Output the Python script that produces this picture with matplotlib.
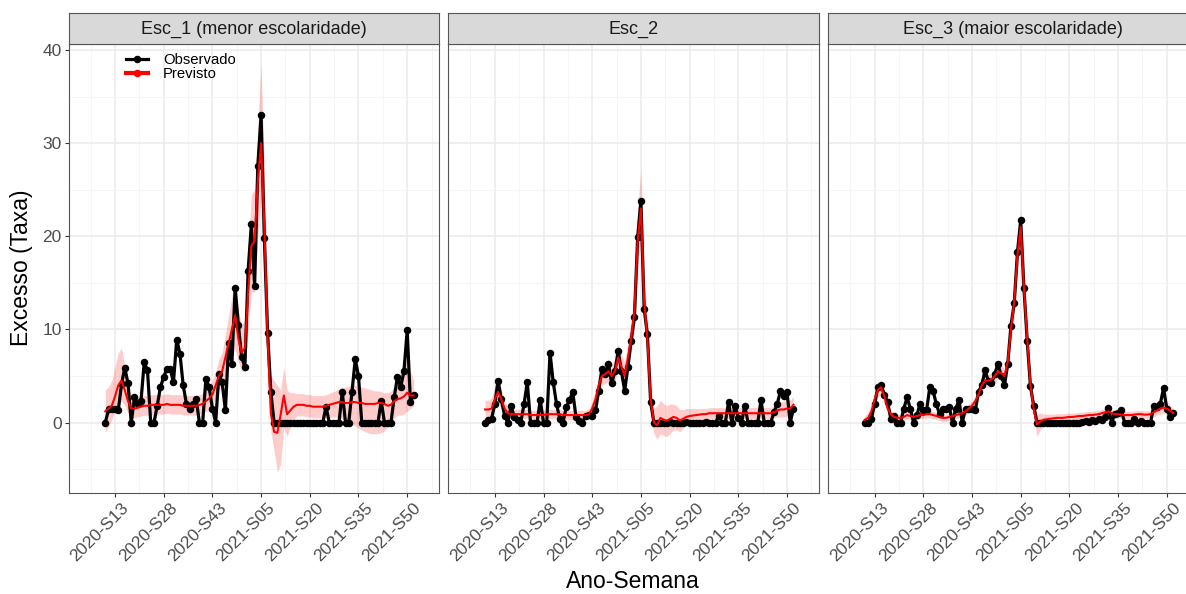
import matplotlib
matplotlib.use("Agg")
import matplotlib.pyplot as plt
from matplotlib.lines import Line2D
from matplotlib.transforms import ScaledTranslation
import numpy as np

plt.rcParams['font.family'] = ['Liberation Sans', 'DejaVu Sans']

# ---------------- data ----------------
weeks = [f"2020-S{k:02d}" for k in range(10, 54)] + [f"2021-S{k:02d}" for k in range(1, 53)]
tick_labels = ["2020-S13", "2020-S28", "2020-S43", "2021-S05", "2021-S20", "2021-S35", "2021-S50"]
panel_titles = ["Esc_1 (menor escolaridade)", "Esc_2", "Esc_3 (maior escolaridade)"]
series_names = ["Observado", "Previsto"]
y_ticks = [0, 10, 20, 30, 40]

obs1 = [0, 1.4, 1.5, 1.4, 1.3, 4.1, 5.9, 4.2, 0, 2.7,
        2.0, 2.3, 6.5, 5.6, 0, 0, 1.8, 3.8, 4.9, 5.8,
        5.8, 4.3, 8.9, 7.4, 4.0, 2.0, 1.5, 2.0, 2.5, 0,
        0, 4.7, 3.8, 1.5, 0, 5.2, 4.3, 1.3, 8.5, 6.3,
        14.5, 10.5, 7.0, 6.0, 16.3, 21.3, 14.7, 27.6, 33.0, 19.8,
        9.6, 3.3, 0, 0, 0, 0, 0, 0, 0, 0,
        0, 0, 0, 0, 0, 0, 0, 0, 1.7, 0,
        0, 0, 0, 3.3, 0, 0, 3.3, 6.8, 5.0, 0,
        0, 0, 0, 0, 0, 2.3, 0, 0, 0, 2.7,
        4.9, 3.8, 5.5, 9.9, 2.2, 3.0]
prev1 = [1.2, 1.5, 1.8, 2.8, 4.0, 4.5, 3.5, 2.3, 1.5, 1.5,
         1.6, 1.7, 1.8, 1.8, 1.9, 1.9, 1.9, 1.9, 1.9, 2.0,
         1.9, 1.9, 1.9, 1.9, 1.8, 1.8, 1.8, 1.8, 1.8, 1.9,
         2.0, 2.3, 2.6, 3.0, 4.0, 5.0, 5.5, 7.0, 8.5, 10.0,
         11.5, 9.0, 7.5, 8.0, 14.0, 19.0, 19.5, 26.0, 30.0, 21.0,
         9.0, 1.0, -1.0, -1.1, 0.8, 2.9, 0.9, 1.3, 1.7, 1.9,
         1.9, 1.9, 1.8, 1.8, 1.7, 1.7, 1.7, 1.7, 1.8, 1.9,
         2.0, 2.1, 2.2, 2.2, 2.1, 2.1, 2.2, 2.2, 2.1, 2.1,
         2.0, 2.0, 2.0, 2.0, 2.1, 2.1, 2.0, 1.8, 1.9, 2.3,
         2.5, 2.6, 2.8, 3.2, 2.9, 2.9]
lo1 = [-1.0, -0.5, 0.3, 1.2, 2.0, 2.3, 1.8, 1.0, 0.5, 0.5,
       0.6, 0.7, 0.8, 0.8, 0.9, 0.9, 0.9, 0.9, 0.9, 1.0,
       0.9, 0.9, 0.9, 0.9, 0.8, 0.8, 0.8, 0.8, 0.8, 0.9,
       1.0, 1.2, 1.4, 1.8, 2.6, 3.5, 3.8, 5.0, 6.0, 7.0,
       8.0, 6.5, 5.5, 5.5, 10.0, 14.0, 14.0, 20.0, 24.0, 15.0,
       5.0, -1.0, -3.0, -5.3, -4.5, -0.5, -1.5, -0.5, 0.3, 0.7,
       0.7, 0.7, 0.6, 0.6, 0.5, 0.5, 0.5, 0.5, 0.5, 0.5,
       0.6, 0.6, 0.5, 0.4, 0.2, 0.0, -0.2, -0.4, -0.6, -0.8,
       -1.0, -1.1, -1.2, -1.2, -1.2, -1.1, -0.9, -0.5, 0.0, 0.5,
       0.8, 0.8, 0.9, 1.2, 1.5, 1.8]
hi1 = [3.5, 3.8, 4.5, 6.0, 7.5, 8.0, 6.0, 4.0, 3.0, 2.7,
       2.7, 2.8, 2.9, 2.9, 3.0, 3.0, 3.0, 3.0, 3.0, 3.1,
       3.0, 3.0, 3.0, 3.0, 2.9, 2.9, 2.9, 2.9, 2.9, 3.0,
       3.1, 3.5, 4.0, 4.5, 5.5, 6.8, 7.5, 9.5, 11.5, 13.5,
       15.0, 12.0, 10.5, 11.0, 18.5, 24.5, 25.0, 32.0, 38.4, 27.0,
       13.0, 5.0, 4.5, 4.0, 3.5, 6.0, 3.5, 3.2, 3.2, 3.1,
       3.1, 3.1, 3.0, 3.0, 2.9, 2.9, 2.9, 2.9, 3.0, 3.1,
       3.3, 3.4, 3.6, 3.8, 3.8, 3.9, 4.0, 4.0, 3.9, 3.8,
       3.7, 3.6, 3.5, 3.4, 3.4, 3.3, 3.2, 3.2, 3.4, 3.8,
       4.8, 5.5, 6.5, 6.5, 5.5, 4.5]

obs2 = [0, 0.3, 0.4, 2.0, 4.5, 2.5, 0.75, 0, 1.8, 0.6,
        0.3, 0, 2.0, 4.3, 0, 0, 0, 2.4, 0, 0,
        7.5, 4.3, 2.0, 0.4, 0, 1.65, 2.4, 3.3, 0.6, 0.2,
        0, 0.75, 0.8, 0.75, 1.3, 3.4, 5.8, 5.2, 6.3, 4.2,
        5.5, 7.7, 5.5, 3.4, 6.0, 8.8, 11.3, 19.9, 23.8, 12.2,
        9.5, 2.2, 0, 0, 0, 0, 0, 0.1, 0, 0,
        0, 0, 0.1, 0, 0, 0, 0, 0, 0.1, 0,
        0, 0, 0.75, 0, 0, 2.2, 0, 1.8, 0.5, 0,
        1.8, 0, 0, 0, 0, 2.4, 0, 0, 0, 1.1,
        2.0, 3.4, 2.9, 3.3, 0, 1.5]
prev2 = [1.4, 1.4, 1.5, 2.5, 3.3, 2.5, 1.5, 1.0, 0.9, 0.9,
         0.9, 0.9, 0.9, 0.9, 0.8, 0.8, 0.8, 0.8, 0.8, 0.9,
         0.9, 0.9, 0.9, 0.9, 0.8, 0.8, 0.8, 0.8, 0.8, 0.8,
         0.8, 0.8, 0.9, 1.5, 2.5, 4.0, 5.0, 5.2, 5.5, 5.0,
         5.5, 7.0, 6.0, 5.0, 7.0, 9.0, 12.0, 19.5, 23.0, 13.0,
         9.0, 2.5, 0.0, -0.3, 0.5, 0.3, 0.2, 0.4, 0.6, 0.5,
         0.2, 0.4, 0.6, 0.7, 0.75, 0.8, 0.85, 0.9, 0.9, 1.0,
         1.0, 1.0, 1.0, 1.0, 1.0, 1.0, 1.0, 1.0, 1.0, 1.0,
         1.0, 1.0, 1.0, 1.0, 1.0, 1.0, 1.0, 1.0, 1.0, 1.1,
         1.3, 1.4, 1.4, 1.5, 1.5, 1.9]
lo2 = [0.6, 0.6, 0.7, 1.5, 2.2, 1.5, 0.8, 0.4, 0.4, 0.4,
       0.4, 0.4, 0.4, 0.4, 0.3, 0.3, 0.3, 0.3, 0.3, 0.4,
       0.4, 0.4, 0.4, 0.4, 0.3, 0.3, 0.3, 0.3, 0.3, 0.3,
       0.3, 0.3, 0.4, 0.8, 1.6, 3.0, 4.0, 4.2, 4.4, 4.0,
       4.4, 5.8, 4.8, 3.8, 5.5, 7.5, 10.0, 16.5, 19.5, 10.5,
       7.0, 1.0, -1.2, -1.8, -1.2, -1.4, -1.5, -1.2, -0.8, -0.8,
       -1.0, -0.6, -0.3, -0.1, 0.1, 0.2, 0.25, 0.3, 0.3, 0.4,
       0.4, 0.4, 0.4, 0.4, 0.4, 0.4, 0.4, 0.4, 0.4, 0.4,
       0.4, 0.4, 0.4, 0.4, 0.4, 0.4, 0.4, 0.4, 0.4, 0.5,
       0.6, 0.6, 0.6, 0.7, 0.8, 1.0]
hi2 = [2.4, 2.4, 2.6, 3.8, 4.6, 3.6, 2.3, 1.6, 1.4, 1.4,
       1.4, 1.4, 1.4, 1.4, 1.3, 1.3, 1.3, 1.3, 1.3, 1.4,
       1.4, 1.4, 1.4, 1.4, 1.3, 1.3, 1.3, 1.3, 1.3, 1.3,
       1.3, 1.3, 1.5, 2.2, 3.4, 5.0, 6.2, 6.4, 6.8, 6.2,
       6.8, 8.4, 7.4, 6.4, 8.8, 11.0, 14.5, 23.0, 27.2, 15.5,
       11.0, 4.0, 1.5, 1.8, 2.4, 2.0, 1.8, 2.0, 2.0, 1.8,
       1.4, 1.4, 1.5, 1.5, 1.5, 1.5, 1.5, 1.5, 1.5, 1.6,
       1.6, 1.6, 1.6, 1.6, 1.6, 1.6, 1.6, 1.6, 1.6, 1.6,
       1.6, 1.6, 1.6, 1.6, 1.6, 1.6, 1.6, 1.6, 1.6, 1.8,
       2.0, 2.2, 2.3, 2.4, 2.4, 2.8]

obs3 = [0, 0, 0.4, 2.0, 3.8, 4.0, 3.0, 2.2, 0.4, 0.75,
        0, 0, 1.5, 2.7, 1.5, 0, 0.8, 2.0, 1.3, 1.3,
        3.8, 3.4, 2.0, 0.9, 1.5, 1.5, 1.65, 0, 1.5, 2.4,
        0, 1.5, 1.5, 1.5, 1.3, 3.3, 4.0, 5.6, 4.5, 4.2,
        5.2, 6.3, 5.0, 4.0, 6.3, 10.4, 12.8, 18.3, 21.7, 14.4,
        8.8, 3.9, 1.8, 0, 0, 0, 0, 0, 0, 0,
        0, 0, 0, 0, 0, 0, 0, 0.1, 0.2, 0.1,
        0.3, 0.2, 0.4, 0.3, 0.6, 1.6, 0, 0.9, 1.0, 1.35,
        0, 0, 0, 0.4, 0, 0.2, 0, 0, 0, 1.8,
        1.7, 2.0, 3.7, 1.5, 0.6, 1.0]
prev3 = [0.3, 0.5, 1.2, 2.5, 3.5, 3.8, 2.8, 1.5, 0.9, 0.6,
         0.5, 0.5, 0.6, 0.8, 0.7, 0.6, 0.7, 0.8, 0.8, 0.9,
         0.9, 0.8, 0.7, 0.6, 0.5, 0.5, 0.6, 0.7, 0.8, 0.9,
         1.0, 1.2, 1.5, 1.8, 2.3, 3.0, 4.0, 4.5, 4.5, 4.6,
         5.0, 5.5, 5.3, 5.0, 6.5, 10.0, 13.0, 18.0, 21.0, 14.5,
         9.0, 4.0, 1.5, -0.2, 0.1, 0.3, 0.35, 0.4, 0.45, 0.5,
         0.5, 0.5, 0.55, 0.6, 0.6, 0.65, 0.7, 0.7, 0.75, 0.8,
         0.8, 0.85, 0.9, 1.0, 1.1, 1.2, 1.0, 0.9, 0.9, 0.85,
         0.8, 0.8, 0.8, 0.85, 0.9, 0.9, 0.85, 0.85, 0.9, 1.1,
         1.3, 1.5, 1.6, 1.5, 1.3, 1.0]
lo3 = [-0.2, 0.0, 0.6, 1.8, 2.8, 3.1, 2.1, 1.0, 0.5, 0.2,
       0.1, 0.1, 0.2, 0.4, 0.3, 0.2, 0.3, 0.4, 0.4, 0.5,
       0.5, 0.4, 0.3, 0.2, 0.1, 0.1, 0.2, 0.3, 0.4, 0.5,
       0.6, 0.8, 1.0, 1.3, 1.8, 2.4, 3.3, 3.8, 3.8, 3.9,
       4.2, 4.7, 4.5, 4.2, 5.6, 8.8, 11.6, 16.3, 19.3, 13.0,
       7.8, 3.0, 0.6, -1.5, -0.8, -0.4, -0.2, -0.1, 0.0, 0.05,
       0.1, 0.1, 0.15, 0.2, 0.2, 0.25, 0.3, 0.3, 0.35, 0.4,
       0.4, 0.45, 0.5, 0.6, 0.7, 0.8, 0.6, 0.5, 0.5, 0.45,
       0.4, 0.4, 0.4, 0.45, 0.5, 0.5, 0.45, 0.45, 0.5, 0.6,
       0.8, 0.9, 1.0, 0.9, 0.7, 0.5]
hi3 = [0.8, 1.0, 1.8, 3.2, 4.2, 4.5, 3.5, 2.0, 1.3, 1.0,
       0.9, 0.9, 1.0, 1.2, 1.1, 1.0, 1.1, 1.2, 1.2, 1.3,
       1.3, 1.2, 1.1, 1.0, 0.9, 0.9, 1.0, 1.1, 1.2, 1.3,
       1.4, 1.6, 2.0, 2.3, 2.8, 3.6, 4.7, 5.2, 5.2, 5.3,
       5.8, 6.3, 6.1, 5.8, 7.4, 11.2, 14.4, 19.7, 22.8, 16.0,
       10.2, 5.0, 2.4, 1.0, 1.0, 0.9, 0.9, 0.9, 0.9, 0.95,
       0.95, 0.95, 1.0, 1.0, 1.0, 1.05, 1.1, 1.1, 1.15, 1.2,
       1.2, 1.25, 1.3, 1.4, 1.5, 1.6, 1.4, 1.3, 1.3, 1.25,
       1.2, 1.2, 1.2, 1.25, 1.3, 1.3, 1.25, 1.25, 1.3, 1.6,
       1.8, 2.1, 2.3, 2.2, 1.9, 1.5]

observed = [obs1, obs2, obs3]
predicted = [prev1, prev2, prev3]
lower = [lo1, lo2, lo3]
upper = [hi1, hi2, hi3]

# ---------------- layout ----------------
W, H = 1186, 594
fig = plt.figure(figsize=(W / 100, H / 100), dpi=100)

x = np.arange(len(weeks))
tick_pos = [weeks.index(t) for t in tick_labels]
minor_pos = [p - 7.5 for p in tick_pos] + [tick_pos[-1] + 7.5]

panel_w = 370.4
gap = 9.4
left0 = 68.6
p_top, p_bot = 44.0, 493.3
s_top = 13.3

GRID_MAJ = '#EBEBEB'
GRID_MIN = '#F4F4F4'
BORDER = '#555555'
TICKTXT = '#4D4D4D'
TICK_FS = 12.5
label_offset = ScaledTranslation(6 / 100, -7 / 100, fig.dpi_scale_trans)

for k in range(3):
    l = left0 + k * (panel_w + gap)
    ax = fig.add_axes([l / W, 1 - p_bot / H, panel_w / W, (p_bot - p_top) / H])
    ax.fill_between(x, lower[k], upper[k], color='red', alpha=0.2, lw=0, zorder=2)
    ax.plot(x, observed[k], color='black', lw=2.3, zorder=3, solid_joinstyle='round')
    ax.plot(x, observed[k], 'o', color='black', ms=4.4, zorder=3.5)
    ax.plot(x, predicted[k], color='red', lw=1.5, zorder=4)

    ax.set_xlim(-11.3, 102.8)
    ax.set_ylim(-7.6, 40.65)
    ax.set_xticks(tick_pos)
    ax.set_xticklabels([])
    xtrans = ax.get_xaxis_transform() + label_offset
    for p, lab in zip(tick_pos, tick_labels):
        ax.text(p, 0, lab, transform=xtrans, rotation=45, ha='right', va='top',
                rotation_mode='anchor', fontsize=TICK_FS, color=TICKTXT, clip_on=False)
    ax.set_xticks(minor_pos, minor=True)
    ax.set_yticks(y_ticks)
    ax.set_yticks([-5, 5, 15, 25, 35], minor=True)
    ax.set_axisbelow(True)
    ax.grid(which='major', color=GRID_MAJ, lw=1.1, zorder=0)
    ax.grid(which='minor', color=GRID_MIN, lw=0.6, zorder=0)
    ax.tick_params(which='minor', length=0)
    ax.tick_params(axis='x', which='major', length=3, width=0.8, color='#333333', pad=2)
    if k == 0:
        ax.set_yticklabels([str(v) for v in y_ticks], fontsize=TICK_FS, color=TICKTXT)
        ax.tick_params(axis='y', which='major', length=3, width=0.8, color='#333333', pad=2)
    else:
        ax.tick_params(axis='y', which='major', length=0, labelleft=False)
    for sp in ax.spines.values():
        sp.set_color(BORDER)
        sp.set_linewidth(0.8)

    # strip
    sax = fig.add_axes([l / W, 1 - p_top / H, panel_w / W, (p_top - s_top) / H])
    sax.set_facecolor('#D9D9D9')
    sax.set_xticks([])
    sax.set_yticks([])
    for sp in sax.spines.values():
        sp.set_color(BORDER)
        sp.set_linewidth(0.8)
    sax.text(0.5, 0.47, panel_titles[k], ha='center', va='center',
             fontsize=13, color='#1A1A1A', transform=sax.transAxes)

    if k == 0:
        handles = [Line2D([], [], color='black', lw=2.3, marker='o', ms=4.4),
                   Line2D([], [], color='red', lw=3.0, marker='o', ms=4.4)]
        ax.legend(handles, series_names, loc='upper left', bbox_to_anchor=(0.155, 0.98),
                  frameon=False, fontsize=10.7, handlelength=1.5, handletextpad=1.0,
                  labelspacing=0.0, borderpad=0, borderaxespad=0)

fig.text(22 / W, 1 - 268 / H, "Excesso (Taxa)", rotation=90, ha='center', va='center',
         fontsize=16.5, color='black')
fig.text(633 / W, 1 - 582 / H, "Ano-Semana", ha='center', va='center',
         fontsize=16.5, color='black')

fig.savefig("out.png", dpi=100)
